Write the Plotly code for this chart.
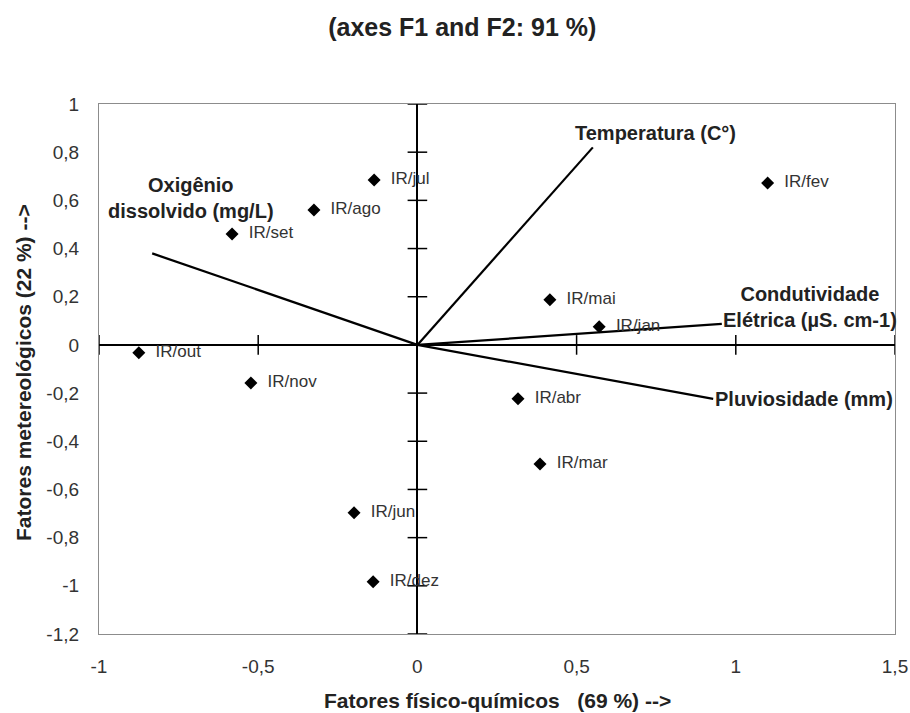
import plotly.graph_objects as go

# Observations (months)
obs_labels = ["IR/jan", "IR/fev", "IR/mar", "IR/abr", "IR/mai", "IR/jun",
              "IR/jul", "IR/ago", "IR/set", "IR/out", "IR/nov", "IR/dez"]
obs_f1 = [0.571, 1.100, 0.385, 0.316, 0.416, -0.199,
          -0.136, -0.325, -0.582, -0.875, -0.523, -0.139]
obs_f2 = [0.075, 0.672, -0.494, -0.224, 0.187, -0.697,
          0.685, 0.560, 0.460, -0.033, -0.158, -0.983]

# Variables (vectors)
var_labels = ["Temperatura (C°)", "Condutividade<br>Elétrica (µS. cm-1)",
              "Pluviosidade (mm)", "Oxigênio<br>dissolvido (mg/L)"]
var_f1 = [0.551, 0.956, 0.929, -0.833]
var_f2 = [0.820, 0.087, -0.224, 0.380]

# Axis ticks
x_ticks = [-1, -0.5, 0, 0.5, 1, 1.5]
x_ticktext = ["-1", "-0,5", "0", "0,5", "1", "1,5"]
y_ticks = [1, 0.8, 0.6, 0.4, 0.2, 0, -0.2, -0.4, -0.6, -0.8, -1, -1.2]
y_ticktext = ["1", "0,8", "0,6", "0,4", "0,2", "0", "-0,2", "-0,4", "-0,6",
              "-0,8", "-1", "-1,2"]

FONT = "Liberation Sans, Arial, sans-serif"

fig = go.Figure()

# Cross-style tick marks on the zero axes
fig.add_trace(go.Scatter(
    x=[t for t in x_ticks if t != 0], y=[0] * (len(x_ticks) - 1),
    mode="markers", hoverinfo="skip", showlegend=False,
    marker=dict(symbol="line-ns", size=14, line=dict(color="black", width=1.5))))
fig.add_trace(go.Scatter(
    x=[0] * len(y_ticks), y=y_ticks,
    mode="markers", hoverinfo="skip", showlegend=False,
    marker=dict(symbol="line-ew", size=14, line=dict(color="black", width=1.5))))

# Variable vectors
vx, vy = [], []
for a, b in zip(var_f1, var_f2):
    vx += [0, a, None]
    vy += [0, b, None]
fig.add_trace(go.Scatter(x=vx, y=vy, mode="lines", showlegend=False,
                         line=dict(color="black", width=2.2)))

# Observations
fig.add_trace(go.Scatter(
    x=obs_f1, y=obs_f2, mode="markers+text",
    text=["\u00a0\u00a0" + s for s in obs_labels],
    textposition="middle right", showlegend=False,
    textfont=dict(family=FONT, size=17, color="#333333"),
    marker=dict(symbol="diamond", size=10, color="black")))

# Variable labels
label_cfg = [
    dict(xanchor="left", yanchor="middle", xshift=-20, yshift=14),
    dict(xanchor="center", yanchor="middle", xshift=88, yshift=17),
    dict(xanchor="left", yanchor="middle", xshift=0, yshift=0),
    dict(xanchor="center", yanchor="middle", xshift=39, yshift=55),
]
for lab, a, b, cfg in zip(var_labels, var_f1, var_f2, label_cfg):
    fig.add_annotation(x=a, y=b, text=f"<b>{lab}</b>", showarrow=False,
                       font=dict(family=FONT, size=20, color="#222222"),
                       align="center", **cfg)

# Axis titles
fig.add_annotation(xref="paper", yref="paper", x=0.5, y=0, yanchor="middle",
                   yshift=-66, showarrow=False,
                   text="<b>Fatores físico-químicos\u00a0\u00a0\u00a0(69 %) --></b>",
                   font=dict(family=FONT, size=21, color="#222222"))
fig.add_annotation(xref="paper", yref="paper", x=0, y=0.5, xanchor="center",
                   xshift=-76, yshift=-4, showarrow=False, textangle=-90,
                   text="<b>Fatores metereológicos (22 %) --></b>",
                   font=dict(family=FONT, size=21, color="#222222"))

fig.update_layout(
    width=910, height=713, autosize=False,
    margin=dict(l=99, r=15, t=104, b=79),
    paper_bgcolor="white", plot_bgcolor="white",
    title=dict(text="<b>(axes F1 and F2: 91 %)</b>", x=0.508, xanchor="center",
               y=1 - 27 / 713, yanchor="middle", yref="container",
               font=dict(family=FONT, size=25, color="#222222")),
    xaxis=dict(range=[-1, 1.5], tickvals=x_ticks, ticktext=x_ticktext,
               showgrid=False, zeroline=True, zerolinecolor="black",
               zerolinewidth=1.5, showline=True, mirror=True,
               linecolor="#8c8c8c", linewidth=1.2, ticks="",
               ticklabelstandoff=15, automargin=False,
               tickfont=dict(family=FONT, size=19, color="#333333")),
    yaxis=dict(range=[-1.2, 1], tickvals=y_ticks, ticktext=y_ticktext,
               showgrid=False, zeroline=True, zerolinecolor="black",
               zerolinewidth=1.5, showline=True, mirror=True,
               linecolor="#8c8c8c", linewidth=1.2, ticks="",
               ticklabelstandoff=15, automargin=False,
               tickfont=dict(family=FONT, size=19, color="#333333")),
)

fig.write_html("out.html",
               config={"responsive": False, "displayModeBar": False},
               post_script="document.body.style.margin='0px';"
                           "document.body.style.overflow='hidden';")
